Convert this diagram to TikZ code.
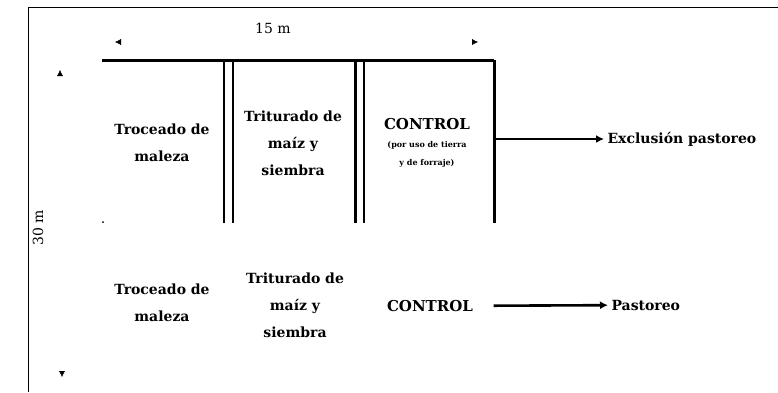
\documentclass[tikz,border=0pt]{standalone}
\usepackage{fontspec}
\setmainfont{DejaVu Serif}
\usetikzlibrary{arrows.meta}
\begin{document}
\begin{tikzpicture}[x=1pt,y=-1pt,
    lbl/.style={align=center,font=\bfseries\fontsize{14}{27}\selectfont},
    thinwall/.style={line width=1.4pt},
    thickwall/.style={line width=3pt},
    flow/.style={line width=2.6pt,-{Latex[length=8pt,width=8pt]}},
    tip/.style={-{Latex[length=6pt,width=6pt]}}]
  \useasboundingbox (0,0) rectangle (778,392);

  % frame
  \draw[line width=0.8pt] (28,392) -- (28,7) -- (778,7);

  % corners of the plot
  \coordinate (nw)  at (102,60);
  \coordinate (ne)  at (494,60);
  \coordinate (se)  at (494,223);
  \coordinate (sw)  at (103,222);

  % walls between the strips
  \begin{scope}[thinwall]
    \draw (224,60) -- (224,223);
    \draw (233,62) -- (233,223);
    \draw (364,60) -- (364,223);
  \end{scope}
  \begin{scope}[thickwall]
    \draw (nw) -- (ne);
    \draw (355,60) -- (355,223);
    \draw (ne) -- (se);
  \end{scope}
  \fill (sw) circle (1pt);

  % measures
  \node[font=\fontsize{14}{16}\selectfont] (ancho) at (273,28) {15 m};
  \node[font=\fontsize{14}{16}\selectfont,rotate=90] (largo) at (38,228) {30 m};
  \coordinate (a1) at (115,42);
  \coordinate (a2) at (478,42);
  \coordinate (a3) at (60,70);
  \coordinate (a4) at (62,377);
  \draw[tip] ([xshift=3pt]a1) -- (a1);
  \draw[tip] ([xshift=-3pt]a2) -- (a2);
  \draw[tip] ([yshift=-3pt]a3) -- (a3);
  \draw[tip] ([yshift=3pt]a4) -- (a4);

  % first plot
  \begin{scope}[every node/.style={lbl}]
    \node (trozA)  at (162,143) {Troceado de\\maleza};
    \node (tritA)  at (293,143) {Triturado de\\maíz y\\siembra};
    \node (contA)  at (427,143) {{\fontsize{15}{27}\selectfont CONTROL}\\[-9pt]
      {\fontsize{8}{15}\selectfont (por uso de tierra}\\[-9pt]
      {\fontsize{8}{15}\selectfont y de forraje)}};
    \node[anchor=west] (exclA) at (604,139) {Exclusión pastoreo};
  \end{scope}

  % second plot
  \begin{scope}[every node/.style={lbl}]
    \node (trozB)  at (162,303) {Troceado de\\maleza};
    \node (tritB)  at (295,305) {Triturado de\\maíz y\\siembra};
    \node[font=\bfseries\fontsize{15}{27}\selectfont] (contB) at (430,306) {CONTROL};
    \node[anchor=west] (pastB) at (608,305) {Pastoreo};
  \end{scope}

  \draw[flow] (494,139) -- (exclA);
  \draw[flow,shorten <=17pt] (contB) -- (pastB);

\end{tikzpicture}
\end{document}
